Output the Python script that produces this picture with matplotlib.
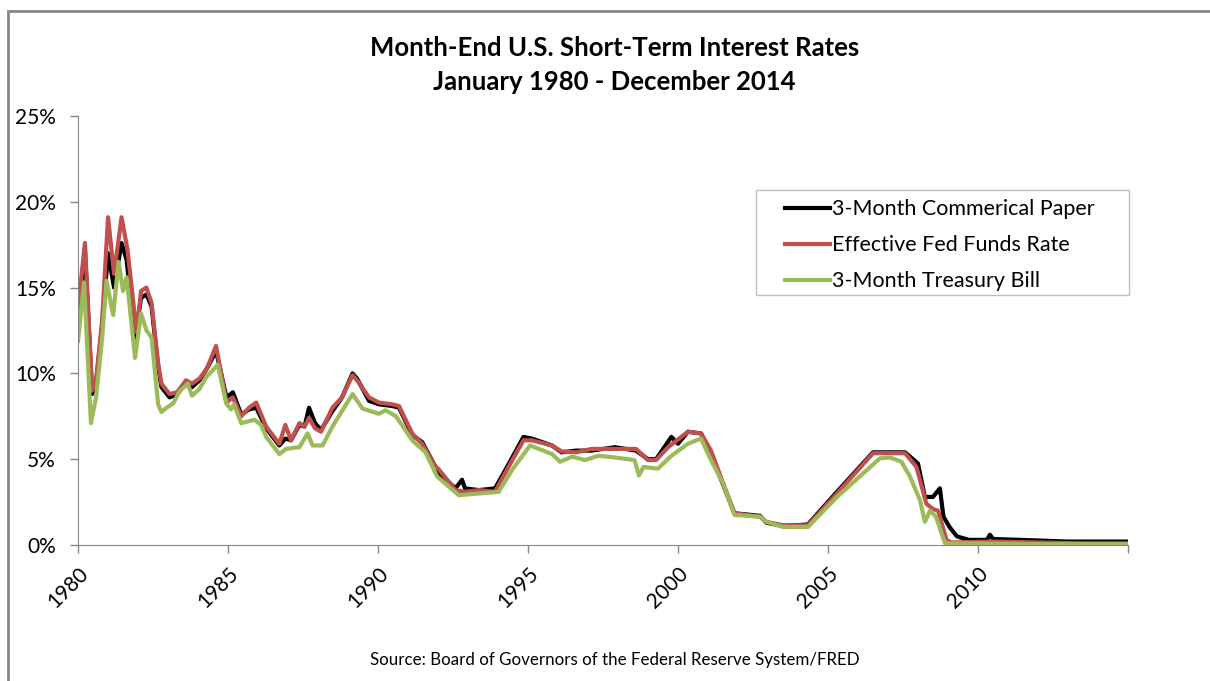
import matplotlib
matplotlib.use("Agg")
import matplotlib.pyplot as plt
from matplotlib.patches import Rectangle

plt.rcParams['font.family'] = ['Lato', 'DejaVu Sans']

# month-end rates in percent (x = decimal year)
cp_x = [1980.0, 1980.23, 1980.47, 1980.6, 1980.8, 1981.0, 1981.2, 1981.45, 1981.62, 1981.9,
        1982.1, 1982.28, 1982.45, 1982.67, 1982.78, 1983.05, 1983.3, 1983.6, 1983.8, 1984.05,
        1984.3, 1984.6, 1984.95, 1985.16, 1985.44, 1985.7, 1985.94, 1986.27, 1986.71, 1986.91,
        1987.1, 1987.38, 1987.55, 1987.7, 1987.9, 1988.1, 1988.48, 1988.8, 1989.15, 1989.3,
        1989.7, 1990.03, 1990.47, 1990.7, 1991.14, 1991.47, 1991.9, 1992.03, 1992.58, 1992.8,
        1992.9, 1993.36, 1993.9, 1994.35, 1994.85, 1995.13, 1995.8, 1996.12, 1996.6, 1997.12,
        1997.9, 1998.6, 1999.0, 1999.27, 1999.78, 2000.0, 2000.33, 2000.77, 2001.1, 2001.44,
        2001.88, 2002.73, 2002.95, 2003.5, 2004.33, 2005.3, 2006.5, 2007.57, 2008.0, 2008.23,
        2008.5, 2008.73, 2008.85, 2009.05, 2009.3, 2009.7, 2010.3, 2010.4, 2010.5, 2011.4,
        2013.0, 2015.0]
cp_y = [13.3, 17.2, 8.8, 9.4, 12.8, 17.0, 15.0, 17.6, 16.6, 12.0,
        14.4, 14.6, 13.9, 10.4, 9.2, 8.6, 8.8, 9.4, 9.2, 9.6,
        10.3, 11.3, 8.6, 8.9, 7.6, 7.9, 8.0, 6.8, 5.8, 6.2,
        6.1, 7.0, 6.9, 8.0, 7.1, 6.7, 7.8, 8.6, 10.0, 9.7,
        8.4, 8.2, 8.1, 8.0, 6.4, 6.0, 4.6, 4.2, 3.3, 3.8,
        3.3, 3.2, 3.3, 4.7, 6.3, 6.2, 5.8, 5.4, 5.5, 5.5,
        5.7, 5.5, 5.0, 5.0, 6.3, 5.9, 6.6, 6.5, 5.3, 3.8,
        1.85, 1.7, 1.3, 1.1, 1.2, 3.1, 5.4, 5.4, 4.75, 2.8,
        2.8, 3.3, 1.65, 1.05, 0.5, 0.3, 0.3, 0.6, 0.35, 0.3,
        0.2, 0.2]

ff_x = [1980.0, 1980.23, 1980.47, 1980.6, 1980.8, 1981.0, 1981.2, 1981.45, 1981.65, 1981.95,
        1982.1, 1982.28, 1982.45, 1982.67, 1982.78, 1983.05, 1983.3, 1983.6, 1983.8, 1984.05,
        1984.3, 1984.6, 1984.95, 1985.16, 1985.44, 1985.7, 1985.94, 1986.27, 1986.71, 1986.91,
        1987.1, 1987.38, 1987.55, 1987.7, 1987.9, 1988.1, 1988.48, 1988.8, 1989.15, 1989.3,
        1989.7, 1990.03, 1990.47, 1990.7, 1991.14, 1991.47, 1991.9, 1992.03, 1992.58, 1992.9,
        1993.36, 1993.9, 1994.35, 1994.85, 1995.13, 1995.8, 1996.12, 1996.6, 1997.12, 1997.9,
        1998.6, 1999.0, 1999.27, 1999.67, 2000.33, 2000.77, 2001.1, 2001.44, 2001.88, 2002.73,
        2002.95, 2003.5, 2004.33, 2005.3, 2006.5, 2007.57, 2007.95, 2008.28, 2008.5, 2008.67,
        2008.95, 2009.1, 2010.5, 2012.0, 2013.5, 2015.0]
ff_y = [13.8, 17.6, 9.0, 9.6, 13.0, 19.1, 15.8, 19.1, 17.2, 12.4,
        14.8, 15.0, 14.1, 10.6, 9.4, 8.8, 8.9, 9.6, 9.4, 9.7,
        10.3, 11.6, 8.3, 8.6, 7.5, 8.0, 8.3, 6.9, 5.9, 7.0,
        6.1, 7.1, 6.9, 7.4, 6.8, 6.6, 8.0, 8.6, 9.9, 9.6,
        8.6, 8.3, 8.2, 8.1, 6.5, 5.9, 4.6, 4.4, 3.2, 3.1,
        3.2, 3.1, 4.55, 6.1, 6.1, 5.8, 5.45, 5.4, 5.6, 5.6,
        5.6, 4.95, 4.95, 5.7, 6.6, 6.5, 5.5, 3.9, 1.85, 1.65,
        1.35, 1.15, 1.15, 3.0, 5.35, 5.35, 4.55, 2.4, 2.1, 2.0,
        0.3, 0.15, 0.2, 0.15, 0.1, 0.1]

tb_x = [1980.0, 1980.2, 1980.43, 1980.6, 1980.8, 1980.95, 1981.17, 1981.35, 1981.5, 1981.62,
        1981.9, 1982.1, 1982.28, 1982.45, 1982.67, 1982.78, 1982.95, 1983.17, 1983.4, 1983.66,
        1983.8, 1984.05, 1984.28, 1984.66, 1984.94, 1985.1, 1985.2, 1985.44, 1985.88, 1986.1,
        1986.27, 1986.71, 1986.94, 1987.38, 1987.65, 1987.82, 1988.15, 1988.48, 1989.15, 1989.48,
        1990.03, 1990.25, 1990.6, 1991.14, 1991.58, 1991.97, 1992.69, 1993.36, 1994.02, 1994.46,
        1995.07, 1995.8, 1996.07, 1996.47, 1996.9, 1997.35, 1997.9, 1998.55, 1998.7, 1998.85,
        1999.33, 1999.78, 2000.33, 2000.77, 2001.1, 2001.5, 2001.88, 2002.73, 2002.95, 2003.5,
        2004.33, 2005.3, 2006.73, 2007.07, 2007.45, 2007.73, 2008.07, 2008.23, 2008.4, 2008.6,
        2008.9, 2010.0, 2012.0, 2015.0]
tb_y = [11.9, 15.3, 7.1, 8.6, 12.0, 15.4, 13.4, 16.5, 14.8, 15.6,
        10.9, 13.5, 12.5, 12.1, 8.2, 7.75, 8.0, 8.25, 9.0, 9.4,
        8.7, 9.1, 9.8, 10.5, 8.25, 7.9, 8.2, 7.1, 7.3, 7.0,
        6.3, 5.3, 5.6, 5.7, 6.5, 5.8, 5.8, 6.9, 8.8, 7.95,
        7.65, 7.85, 7.5, 6.1, 5.4, 4.0, 2.9, 3.0, 3.1, 4.35,
        5.8, 5.3, 4.85, 5.15, 4.95, 5.2, 5.1, 4.95, 4.05, 4.55,
        4.45, 5.2, 5.9, 6.2, 4.95, 3.6, 1.75, 1.65, 1.35, 1.05,
        1.05, 2.8, 5.05, 5.1, 4.85, 4.0, 2.6, 1.35, 2.0, 1.65,
        0.1, 0.1, 0.05, 0.05]

year_ticks = [1980, 1985, 1990, 1995, 2000, 2005, 2010, 2015]
year_labels = ['1980', '1985', '1990', '1995', '2000', '2005', '2010', '']
pct_ticks = [0, 5, 10, 15, 20, 25]

fig = plt.figure(figsize=(12.1, 6.81), dpi=100)
ax = fig.add_axes([0.0645, 0.1997, 0.8677, 0.63])

ax.plot(cp_x, cp_y, color='#000000', lw=3, label='3-Month Commerical Paper')
ax.plot(ff_x, ff_y, color='#C0504D', lw=3, label='Effective Fed Funds Rate')
ax.plot(tb_x, tb_y, color='#9BBB59', lw=3, label='3-Month Treasury Bill')

ax.set_xlim(1980, 2015)
ax.set_ylim(0, 25)
ax.set_xticks(year_ticks)
ax.set_xticklabels(year_labels, rotation=45, ha='right', rotation_mode='anchor')
ax.set_yticks(pct_ticks)
ax.set_yticklabels([f'{v}%' for v in pct_ticks])
ax.tick_params(axis='both', labelsize=15, colors='#868686', labelcolor='#000000',
               length=6, width=1)
ax.tick_params(axis='x', pad=7)
ax.tick_params(axis='y', pad=10)
for side in ['top', 'right']:
    ax.spines[side].set_visible(False)
for side in ['left', 'bottom']:
    ax.spines[side].set_color('#868686')

# legend entries without frame, box drawn separately to get Excel-like padding
fig.add_artist(Rectangle((0.6248, 0.5668), 0.3083, 0.1542, transform=fig.transFigure,
                         facecolor='white', edgecolor='#BFBFBF', lw=1, zorder=4))
leg = fig.legend(loc='upper left', bbox_to_anchor=(0.6488, 0.7075), fontsize=15.5,
                 frameon=False, handlelength=2.1, handletextpad=0.1, borderpad=0,
                 labelspacing=0.75, borderaxespad=0)
leg.set_zorder(5)

fig.text(0.508, 0.93, 'Month-End U.S. Short-Term Interest Rates', ha='center', va='center',
         fontsize=18.5, fontweight='bold')
fig.text(0.508, 0.88, 'January 1980 - December 2014', ha='center', va='center',
         fontsize=18.5, fontweight='bold')
fig.text(0.508, 0.031, 'Source: Board of Governors of the Federal Reserve System/FRED',
         ha='center', va='center', fontsize=12.2)

# chart frame (left and top edges visible)
fig.add_artist(Rectangle((0.0066, -0.1), 1.2, 1.084, transform=fig.transFigure,
                         fill=False, edgecolor='#868686', lw=2))

fig.savefig('out.png', dpi=100)
